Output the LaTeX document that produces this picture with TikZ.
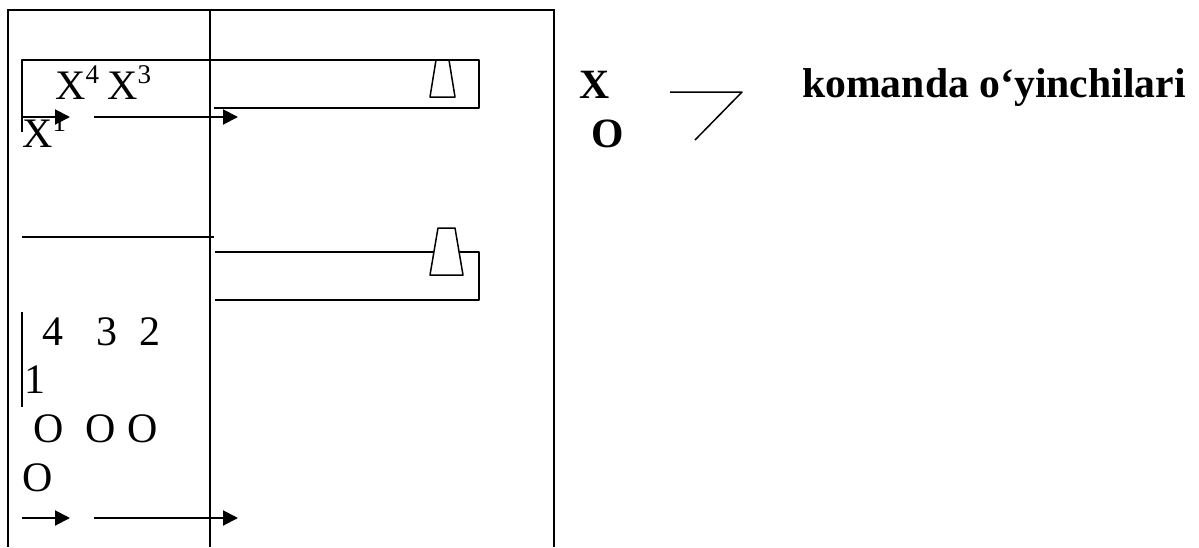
\documentclass[tikz,border=0pt]{standalone}
\usepackage{fontspec}
\setmainfont{Liberation Serif}
\usetikzlibrary{arrows.meta}
\newcommand{\supr}[1]{\raisebox{16pt}{\fontsize{27}{27}\selectfont #1}}
\tikzset{
  txt/.style={inner sep=0pt,anchor=base west,font=\fontsize{42}{42}\selectfont},
  bold/.style={inner sep=0pt,anchor=base west,font=\fontsize{41.7}{42}\selectfont\bfseries},
  thick line/.style={line width=2pt,black},
  thin line/.style={line width=1.5pt,black,line join=round},
  arrow line/.style={line width=2pt,black,-{Triangle[length=15pt,width=15pt]}}
}
\begin{document}
\begin{tikzpicture}[x=1pt,y=-1pt]
\useasboundingbox (0,0) rectangle (1199,547);
% field
\coordinate (bl) at (8,547); \coordinate (tl) at (8,10); \coordinate (tr) at (554,10); \coordinate (br) at (554,547);
\coordinate (mt) at (210,10); \coordinate (mb) at (210,547);
\draw[thick line] (bl) -- (tl) -- (tr) -- (br);
\draw[thick line] (mt) -- (mb);
% upper frame
\coordinate (a1) at (22,132); \coordinate (a2) at (22,60); \coordinate (a3) at (479,60); \coordinate (a4) at (479,108); \coordinate (a5) at (214,108);
\draw[thin line] (a1) -- (a2) -- (a3) -- (a4) -- (a5);
\coordinate (t1) at (436,60); \coordinate (t2) at (449,60); \coordinate (t3) at (455,97); \coordinate (t4) at (430,97);
\draw[thin line,fill=white] (t1) -- (t2) -- (t3) -- (t4) -- cycle;
% lower frame
\coordinate (b0) at (22,237); \coordinate (b00) at (214,237);
\draw[thin line] (b0) -- (b00);
\coordinate (b1) at (215,252); \coordinate (b2) at (479,252); \coordinate (b3) at (479,300); \coordinate (b4) at (215,300);
\draw[thin line] (b1) -- (b2) -- (b3) -- (b4);
\coordinate (s1) at (438,228); \coordinate (s2) at (455,228); \coordinate (s3) at (463,275); \coordinate (s4) at (430,275);
\draw[thin line,fill=white] (s1) -- (s2) -- (s3) -- (s4) -- cycle;
\coordinate (v1) at (22,312); \coordinate (v2) at (22,407);
\draw[thin line] (v1) -- (v2);
% arrows
\coordinate (r1) at (22,117); \coordinate (r2) at (70,117); \coordinate (r3) at (94,117); \coordinate (r4) at (238,117);
\draw[arrow line] (r1) -- (r2);
\draw[arrow line] (r3) -- (r4);
\coordinate (q1) at (22,518); \coordinate (q2) at (70,518); \coordinate (q3) at (94,518); \coordinate (q4) at (238,518);
\draw[arrow line] (q1) -- (q2);
\draw[arrow line] (q3) -- (q4);
% labels
\node[txt] (x4) at (55,99) {X\supr{4}};
\node[txt] (x3) at (107,99) {X\supr{3}};
\node[txt] (x1) at (22,147) {X\supr{1}};
\node[txt] (n4) at (42,345) {4};
\node[txt] (n3) at (96,345) {3};
\node[txt] (n2) at (139,345) {2};
\node[txt] (n1) at (24,393) {1};
\node[txt] (o4) at (33,442) {O};
\node[txt] (o3) at (85,442) {O};
\node[txt] (o2) at (127,442) {O};
\node[txt] (o1) at (22,491) {O};
% legend
\node[bold] (lx) at (579,98) {X};
\node[bold] (lo) at (591,147) {O};
\coordinate (l1) at (670,92); \coordinate (l2) at (742,92); \coordinate (l3) at (695,140);
\draw[thin line] (l1) -- (l2) -- (l3);
\node[bold] (lt) at (802,97) {komanda o‘yinchilari};
\end{tikzpicture}
\end{document}
